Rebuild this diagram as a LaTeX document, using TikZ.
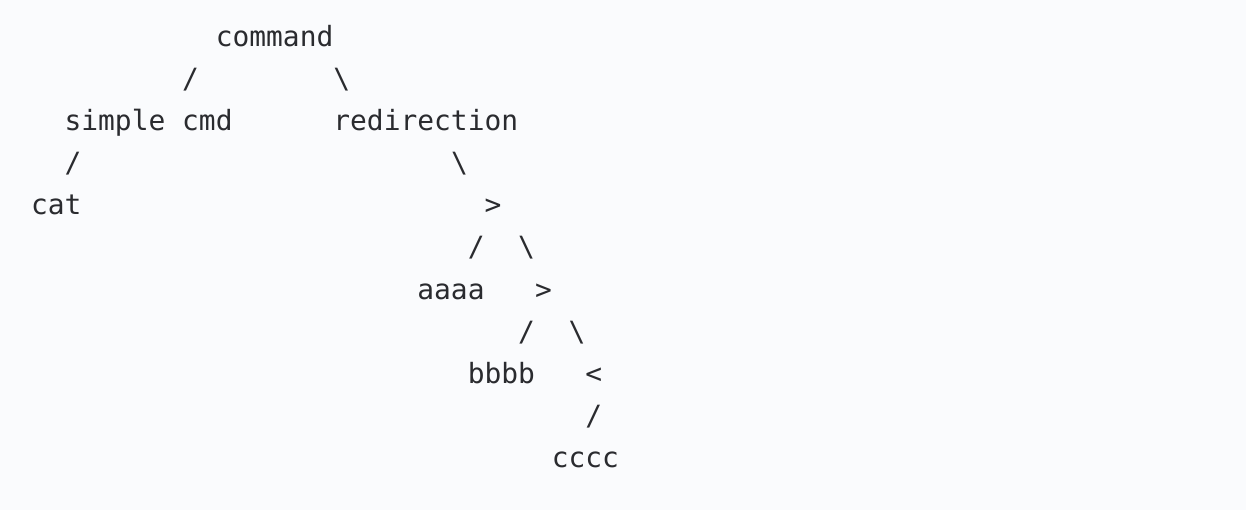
\documentclass[tikz,border=0pt]{standalone}
\usepackage{fontspec}
\newfontfamily\treefont{DejaVu Sans Mono}
\definecolor{bgc}{HTML}{FAFBFD}
\definecolor{txt}{HTML}{2A2B2F}
\begin{document}
\begin{tikzpicture}[x=1pt,y=1pt,
  tok/.style={anchor=base west, inner sep=0pt, outer sep=0pt, text=txt,
    font=\treefont\fontsize{27.9}{30}\selectfont}]
\fill[bgc] (0,0) rectangle (1246,-510);
\useasboundingbox (0,0) rectangle (1246,-510);
% column c -> x = 31 + 16.8 c ; line k -> baseline y = -(47 + 42 k)
\def\cx#1{31+16.8*#1}
\node[tok] (command) at ({\cx{11}},-47) {command};
\node[tok] (s1) at ({\cx{9}},-89) {/};
\node[tok] (b1) at ({\cx{18}},-89) {\textbackslash};
\node[tok] (simple) at ({\cx{2}},-131) {simple cmd};
\node[tok] (redir) at ({\cx{18}},-131) {redirection};
\node[tok] (s2) at ({\cx{2}},-173) {/};
\node[tok] (b2) at ({\cx{25}},-173) {\textbackslash};
\node[tok] (cat) at ({\cx{0}},-215) {cat};
\node[tok] (gt1) at ({\cx{27}},-215) {>};
\node[tok] (s3) at ({\cx{26}},-257) {/};
\node[tok] (b3) at ({\cx{29}},-257) {\textbackslash};
\node[tok] (aaaa) at ({\cx{23}},-299) {aaaa};
\node[tok] (gt2) at ({\cx{30}},-299) {>};
\node[tok] (s4) at ({\cx{29}},-341) {/};
\node[tok] (b4) at ({\cx{32}},-341) {\textbackslash};
\node[tok] (bbbb) at ({\cx{26}},-383) {bbbb};
\node[tok] (lt) at ({\cx{33}},-383) {<};
\node[tok] (s5) at ({\cx{33}},-425) {/};
\node[tok] (cccc) at ({\cx{31}},-467) {cccc};
\end{tikzpicture}
\end{document}
